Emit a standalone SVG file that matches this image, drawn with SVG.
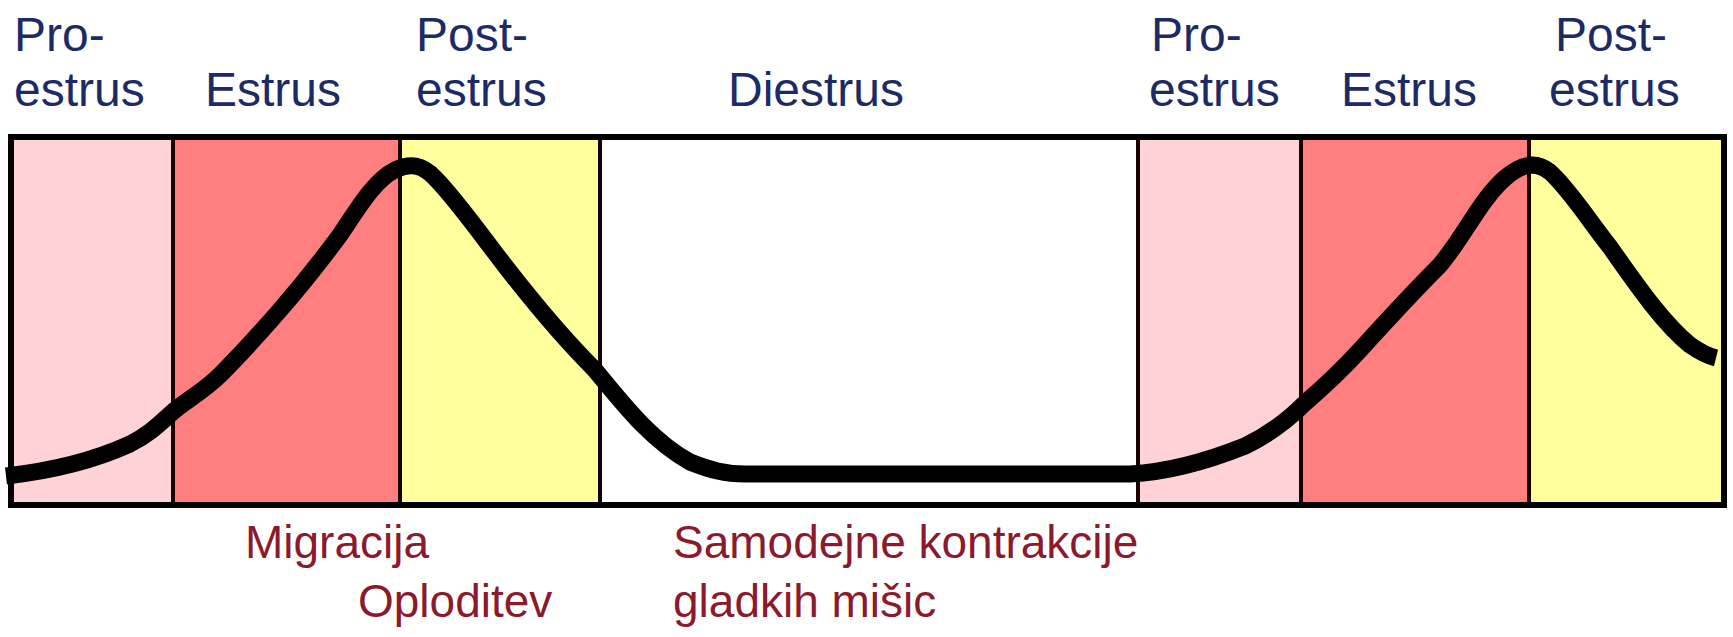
<svg xmlns="http://www.w3.org/2000/svg" width="1733" height="637" viewBox="0 0 1733 637">
<style>
.lbl{font-family:"Liberation Sans",Arial,sans-serif;font-size:48px;fill:#1c2a66}
.note{font-family:"Liberation Sans",Arial,sans-serif;font-size:46px;fill:#8a1a2c}
.pro{fill:#ffd3d5}
.est{fill:#ff7f81}
.post{fill:#ffff9e}
.die{fill:#ffffff}
.div{stroke:#1a0000;stroke-width:4;fill:none}
.curve{fill:none;stroke:#000;stroke-width:17;stroke-linejoin:round}
</style>
<rect width="1733" height="637" fill="#fff"/>
<g id="proestrus1"><rect class="pro" x="11" y="137" width="162" height="368"/><text class="lbl" x="14" y="51">Pro-</text><text class="lbl" x="14" y="106">estrus</text></g>
<g id="estrus1"><rect class="est" x="173" y="137" width="227" height="368"/><text class="lbl" x="205" y="106">Estrus</text></g>
<g id="postestrus1"><rect class="post" x="400" y="137" width="200" height="368"/><text class="lbl" x="416" y="51">Post-</text><text class="lbl" x="416" y="106">estrus</text></g>
<g id="diestrus"><rect class="die" x="600" y="137" width="538" height="368"/><text class="lbl" x="728" y="106">Diestrus</text></g>
<g id="proestrus2"><rect class="pro" x="1138" y="137" width="163" height="368"/><text class="lbl" x="1151" y="51">Pro-</text><text class="lbl" x="1149" y="106">estrus</text></g>
<g id="estrus2"><rect class="est" x="1301" y="137" width="228" height="368"/><text class="lbl" x="1341" y="106">Estrus</text></g>
<g id="postestrus2"><rect class="post" x="1529" y="137" width="195" height="368"/><text class="lbl" x="1555" y="51">Post-</text><text class="lbl" x="1549" y="106">estrus</text></g>
<g id="frame">
<line class="div" x1="173" y1="137" x2="173" y2="505"/>
<line class="div" x1="400" y1="137" x2="400" y2="505"/>
<line class="div" x1="600" y1="137" x2="600" y2="505"/>
<line class="div" x1="1138" y1="137" x2="1138" y2="505"/>
<line class="div" x1="1301" y1="137" x2="1301" y2="505"/>
<line class="div" x1="1529" y1="137" x2="1529" y2="505"/>
<rect x="11" y="137" width="1713" height="368" fill="none" stroke="#000" stroke-width="6"/>
</g>
<g id="connectors">
<path class="curve" d="M6,476 C50,471 95,460 130,444 C150,434 160,423 175,410 C190,398 205,390 220,375 C240,355 260,333 280,310 C300,287 320,262 340,235 C360,205 375,180 395,170 C410,163 422,164 435,178 C455,198 485,240 506,267 C530,298 565,340 595,370 C620,400 650,440 690,462 C710,470 725,474 745,474 L1130,474 C1170,472 1210,460 1245,446 C1270,434 1290,418 1305,403 C1320,390 1340,372 1360,350 C1390,317 1415,290 1440,265 C1465,235 1480,200 1505,178 C1520,165 1535,160 1550,172 C1570,190 1590,222 1610,247 C1640,290 1665,325 1690,345 C1700,352 1708,356 1716,358"/>
</g>
<g id="notes">
<text class="note" x="245" y="558">Migracija</text>
<text class="note" x="358" y="617">Oploditev</text>
<text class="note" x="673" y="558">Samodejne kontrakcije</text>
<text class="note" x="673" y="617">gladkih mišic</text>
</g>
</svg>
